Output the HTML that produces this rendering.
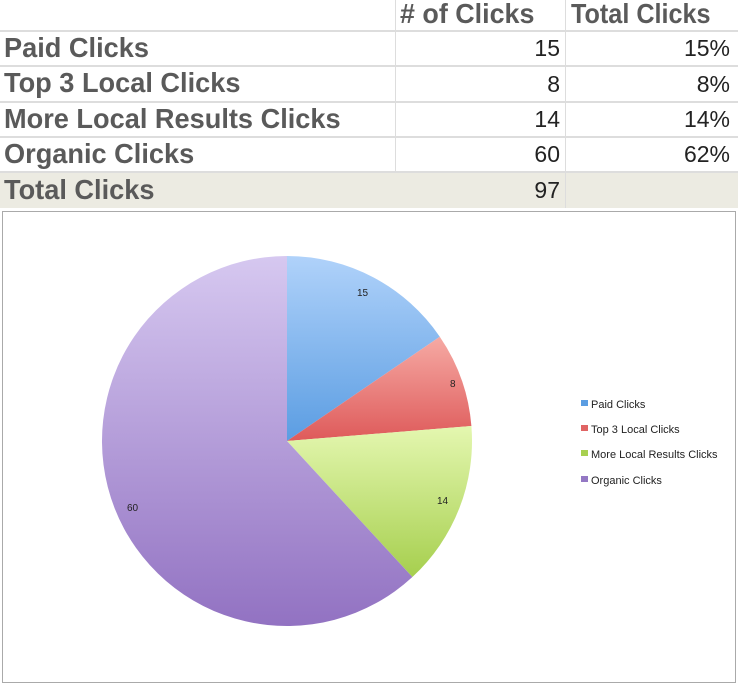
<!DOCTYPE html>
<html><head><style>
body{margin:0;width:738px;height:669px;background:#fff;overflow:hidden;position:relative;font-family:"Liberation Sans",sans-serif}
.t{position:absolute;font-weight:bold;color:#5a5a5a;font-size:28px;transform:scaleX(0.97);transform-origin:left center;white-space:nowrap;line-height:32px}
.n{position:absolute;color:#222;font-size:23px;text-align:right;white-space:nowrap}
.h{position:absolute;left:0;width:738px;height:2px;background:#ddd}
.v{position:absolute;width:1px;background:#ddd}
</style></head><body>
<div style="position:absolute;left:0;top:173px;width:738px;height:35px;background:#ecebe2"></div>
<div class="h" style="top:30px"></div><div class="h" style="top:65px"></div><div class="h" style="top:101px"></div><div class="h" style="top:136px"></div><div class="h" style="top:171px"></div>
<div class="v" style="left:395px;top:0;height:172px"></div><div class="v" style="left:565px;top:0;height:208px"></div>
<div class="t" style="left:400px;top:-2px;transform:scaleX(0.96)">#&nbsp;of Clicks</div>
<div class="t" style="left:571px;top:-2px;transform:scaleX(0.9)">Total Clicks</div>
<div class="t" style="left:4px;top:32px">Paid Clicks</div>
<div class="t" style="left:4px;top:67px">Top 3 Local Clicks</div>
<div class="t" style="left:4px;top:103px">More Local Results Clicks</div>
<div class="t" style="left:4px;top:138px">Organic Clicks</div>
<div class="t" style="left:4px;top:174px">Total Clicks</div>
<div class="n" style="right:178px;top:35px">15</div><div class="n" style="right:8px;top:35px">15%</div>
<div class="n" style="right:178px;top:71px">8</div><div class="n" style="right:8px;top:71px">8%</div>
<div class="n" style="right:178px;top:106px">14</div><div class="n" style="right:8px;top:106px">14%</div>
<div class="n" style="right:178px;top:141px">60</div><div class="n" style="right:8px;top:141px">62%</div>
<div class="n" style="right:178px;top:177px">97</div>
<div style="position:absolute;left:2px;top:211px;width:732px;height:470px;border:1px solid #aaa"></div>
<svg style="position:absolute;left:0;top:0" width="738" height="669">
<defs>
<linearGradient id="b" x1="0" y1="0" x2="0" y2="1"><stop offset="0" stop-color="#b0d2fa"/><stop offset="1" stop-color="#5b9de2"/></linearGradient>
<linearGradient id="r" x1="0" y1="0" x2="0" y2="1"><stop offset="0" stop-color="#f6aaa4"/><stop offset="1" stop-color="#de5a5a"/></linearGradient>
<linearGradient id="g" x1="0" y1="0" x2="0" y2="1"><stop offset="0" stop-color="#e4f7b0"/><stop offset="1" stop-color="#a6cf4e"/></linearGradient>
<linearGradient id="p" x1="0" y1="0" x2="0" y2="1"><stop offset="0" stop-color="#d6c8f0"/><stop offset="1" stop-color="#9272c2"/></linearGradient>
</defs>
<path d="M287,441 L287,256 A185,185 0 0 1 439.8,336.7Z" fill="url(#b)"/>
<path d="M287,441 L439.8,336.7 A185,185 0 0 1 471.4,426Z" fill="url(#r)"/>
<path d="M287,441 L471.4,426 A185,185 0 0 1 412.4,577Z" fill="url(#g)"/>
<path d="M287,441 L412.4,577 A185,185 0 1 1 287,256Z" fill="url(#p)"/>
<g font-size="10" fill="#222" font-family="Liberation Sans,sans-serif">
<text x="357" y="296">15</text><text x="450" y="387">8</text><text x="437" y="504">14</text><text x="127" y="511">60</text>
</g>
<g font-size="11" fill="#222" font-family="Liberation Sans,sans-serif">
<rect x="581" y="400" width="7" height="6" fill="#5b9de2"/><text x="591" y="408">Paid Clicks</text>
<rect x="581" y="425" width="7" height="6" fill="#e06464"/><text x="591" y="433">Top 3 Local Clicks</text>
<rect x="581" y="450" width="7" height="6" fill="#a8d050"/><text x="591" y="458">More Local Results Clicks</text>
<rect x="581" y="476" width="7" height="6" fill="#9478c4"/><text x="591" y="484">Organic Clicks</text>
</g>
</svg>
</body></html>
